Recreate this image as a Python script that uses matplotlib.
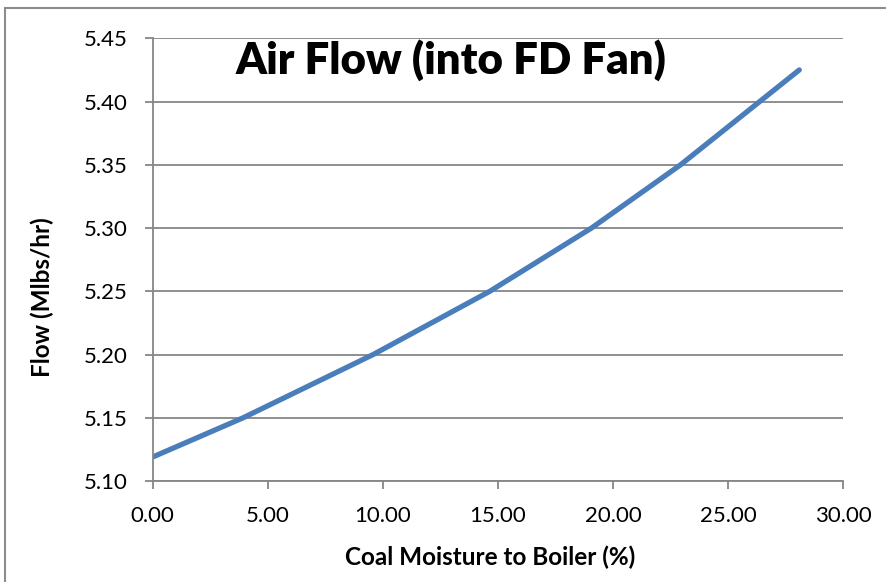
import matplotlib.pyplot as plt
from matplotlib.patches import Rectangle

# Air flow into the FD fan vs. coal moisture
moisture = [0.0, 3.93, 9.58, 14.65, 19.07, 22.94, 26.38, 28.1]
air_flow = [5.119, 5.15, 5.20, 5.25, 5.30, 5.35, 5.40, 5.425]

x_ticks = [0, 5, 10, 15, 20, 25, 30]
y_ticks = [5.10, 5.15, 5.20, 5.25, 5.30, 5.35, 5.40, 5.45]

plt.rcParams['font.family'] = ['Lato', 'DejaVu Sans']
grid_color = '#868686'

fig = plt.figure(figsize=(8.87, 5.82), dpi=100)
ax = fig.add_axes([0.1722, 0.1735, 0.7782, 0.7607])

# chart frame (runs off the right and bottom edges)
fig.patches.append(Rectangle((5.5 / 887, -0.1), 1.2, 1 - 8 / 582 + 0.1,
                             transform=fig.transFigure, fill=False,
                             edgecolor='#8c8c8c', linewidth=1.5))

ax.plot(moisture, air_flow, color='#4a7ebb', linewidth=3.8, solid_capstyle='round')

ax.set_xlim(0, 30)
ax.set_ylim(5.10, 5.45)
ax.set_xticks(x_ticks)
ax.set_yticks(y_ticks)
ax.set_xticklabels([f"{v:.2f}" for v in x_ticks])
ax.set_yticklabels([f"{v:.2f}" for v in y_ticks])
ax.tick_params(axis='both', labelsize=16, color=grid_color, length=6, width=1.3,
               labelcolor='black')
ax.tick_params(axis='x', pad=12)
ax.tick_params(axis='y', pad=12)

ax.grid(axis='y', color=grid_color, linewidth=1.3)
ax.set_axisbelow(True)
for side in ['top', 'right']:
    ax.spines[side].set_visible(False)
for side in ['left', 'bottom']:
    ax.spines[side].set_color(grid_color)
    ax.spines[side].set_linewidth(1.3)

fig.text(451 / 887, 1 - 60 / 582, "Air Flow (into FD Fan)", fontsize=31.5,
         fontweight='heavy', ha='center', va='center')
fig.text(490 / 887, 1 - 557 / 582, "Coal Moisture to Boiler (%)", fontsize=17.5,
         fontweight='bold', ha='center', va='center')
fig.text(42 / 887, 1 - 297 / 582, "Flow (Mlbs/hr)", fontsize=17.5,
         fontweight='bold', ha='center', va='center', rotation=90)

fig.savefig('out.png', dpi=100)
